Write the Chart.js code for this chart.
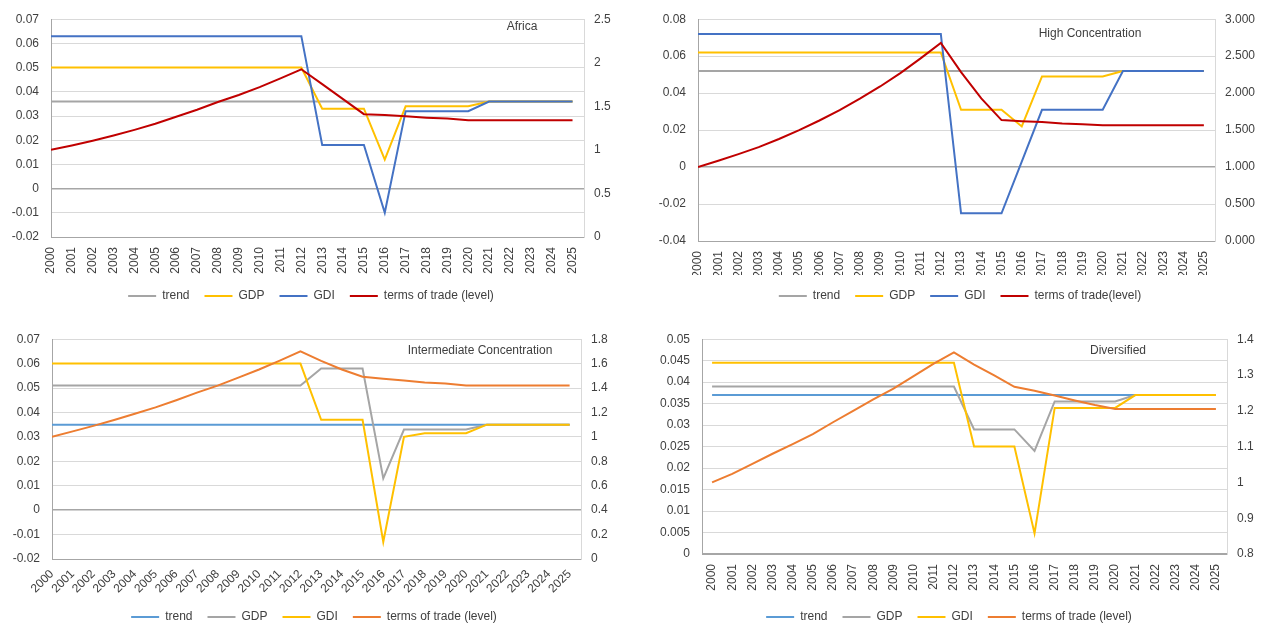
<!DOCTYPE html>
<html>
<head>
<meta charset="utf-8">
<script src="https://cdn.jsdelivr.net/npm/chart.js@4.4.1/dist/chart.umd.min.js"></script>
<style>
  body { margin: 0; background: #fff; width: 1263px; height: 624px; overflow: hidden; position: relative; }
  .box { position: absolute; }
</style>
</head>
<body>
<div class="box" style="left:0px;top:0px;width:622px;height:312px"><canvas id="africa"></canvas></div>
<div class="box" style="left:652px;top:0px;width:616px;height:312px"><canvas id="high"></canvas></div>
<div class="box" style="left:0px;top:320px;width:628px;height:313px"><canvas id="inter"></canvas></div>
<div class="box" style="left:640px;top:320px;width:618px;height:313px"><canvas id="divers"></canvas></div>
<script>
const years = [2000, 2001, 2002, 2003, 2004, 2005, 2006, 2007, 2008, 2009, 2010, 2011, 2012,
               2013, 2014, 2015, 2016, 2017, 2018, 2019, 2020, 2021, 2022, 2023, 2024, 2025];

// Africa
const africaTrend = [0.036, 0.036, 0.036, 0.036, 0.036, 0.036, 0.036, 0.036, 0.036, 0.036, 0.036, 0.036, 0.036,
                     0.036, 0.036, 0.036, 0.036, 0.036, 0.036, 0.036, 0.036, 0.036, 0.036, 0.036, 0.036, 0.036];
const africaGDP = [0.05, 0.05, 0.05, 0.05, 0.05, 0.05, 0.05, 0.05, 0.05, 0.05, 0.05, 0.05, 0.05,
                   0.033, 0.033, 0.033, 0.012, 0.034, 0.034, 0.034, 0.034, 0.036, 0.036, 0.036, 0.036, 0.036];
const africaGDI = [0.063, 0.063, 0.063, 0.063, 0.063, 0.063, 0.063, 0.063, 0.063, 0.063, 0.063, 0.063, 0.063,
                   0.018, 0.018, 0.018, -0.01, 0.032, 0.032, 0.032, 0.032, 0.036, 0.036, 0.036, 0.036, 0.036];
const africaToT = [1.0, 1.05, 1.105, 1.165, 1.23, 1.3, 1.38, 1.46, 1.55, 1.63, 1.72, 1.82, 1.925,
                   1.755, 1.583, 1.41, 1.4, 1.385, 1.37, 1.36, 1.34, 1.34, 1.34, 1.34, 1.34, 1.34];

// High Concentration
const highTrend = [0.052, 0.052, 0.052, 0.052, 0.052, 0.052, 0.052, 0.052, 0.052, 0.052, 0.052, 0.052, 0.052,
                   0.052, 0.052, 0.052, 0.052, 0.052, 0.052, 0.052, 0.052, 0.052, 0.052, 0.052, 0.052, 0.052];
const highGDP = [0.062, 0.062, 0.062, 0.062, 0.062, 0.062, 0.062, 0.062, 0.062, 0.062, 0.062, 0.062, 0.062,
                 0.031, 0.031, 0.031, 0.022, 0.049, 0.049, 0.049, 0.049, 0.052, 0.052, 0.052, 0.052, 0.052];
const highGDI = [0.072, 0.072, 0.072, 0.072, 0.072, 0.072, 0.072, 0.072, 0.072, 0.072, 0.072, 0.072, 0.072,
                 -0.025, -0.025, -0.025, 0.003, 0.031, 0.031, 0.031, 0.031, 0.052, 0.052, 0.052, 0.052, 0.052];
const highToT = [1.0, 1.085, 1.175, 1.27, 1.38, 1.5, 1.63, 1.77, 1.925, 2.09, 2.27, 2.47, 2.68,
                 2.285, 1.93, 1.635, 1.62, 1.61, 1.59, 1.58, 1.565, 1.565, 1.565, 1.565, 1.565, 1.565];

// Intermediate Concentration
const interTrend = [0.035, 0.035, 0.035, 0.035, 0.035, 0.035, 0.035, 0.035, 0.035, 0.035, 0.035, 0.035, 0.035,
                    0.035, 0.035, 0.035, 0.035, 0.035, 0.035, 0.035, 0.035, 0.035, 0.035, 0.035, 0.035, 0.035];
const interGDP = [0.051, 0.051, 0.051, 0.051, 0.051, 0.051, 0.051, 0.051, 0.051, 0.051, 0.051, 0.051, 0.051,
                  0.058, 0.058, 0.058, 0.013, 0.033, 0.033, 0.033, 0.033, 0.035, 0.035, 0.035, 0.035, 0.035];
const interGDI = [0.06, 0.06, 0.06, 0.06, 0.06, 0.06, 0.06, 0.06, 0.06, 0.06, 0.06, 0.06, 0.06,
                  0.037, 0.037, 0.037, -0.013, 0.030, 0.0315, 0.0315, 0.0315, 0.035, 0.035, 0.035, 0.035, 0.035];
const interToT = [1.0, 1.045, 1.09, 1.138, 1.19, 1.242, 1.3, 1.362, 1.42, 1.485, 1.552, 1.625, 1.7,
                  1.623, 1.552, 1.492, 1.476, 1.462, 1.446, 1.438, 1.42, 1.42, 1.42, 1.42, 1.42, 1.42];

// Diversified
const diversTrend = [0.037, 0.037, 0.037, 0.037, 0.037, 0.037, 0.037, 0.037, 0.037, 0.037, 0.037, 0.037, 0.037,
                     0.037, 0.037, 0.037, 0.037, 0.037, 0.037, 0.037, 0.037, 0.037, 0.037, 0.037, 0.037, 0.037];
const diversGDP = [0.039, 0.039, 0.039, 0.039, 0.039, 0.039, 0.039, 0.039, 0.039, 0.039, 0.039, 0.039, 0.039,
                   0.029, 0.029, 0.029, 0.024, 0.0355, 0.0355, 0.0355, 0.0355, 0.037, 0.037, 0.037, 0.037, 0.037];
const diversGDI = [0.0445, 0.0445, 0.0445, 0.0445, 0.0445, 0.0445, 0.0445, 0.0445, 0.0445, 0.0445, 0.0445, 0.0445, 0.0445,
                   0.025, 0.025, 0.025, 0.0048, 0.034, 0.034, 0.034, 0.034, 0.037, 0.037, 0.037, 0.037, 0.037];
const diversToT = [1.0, 1.024, 1.052, 1.08, 1.107, 1.135, 1.168, 1.2, 1.232, 1.262, 1.297, 1.332, 1.363,
                   1.329, 1.299, 1.267, 1.256, 1.243, 1.229, 1.216, 1.205, 1.205, 1.205, 1.205, 1.205, 1.205];

const FONT = "'Liberation Sans', Arial, sans-serif";
const TEXT = '#404040';
const GRID = '#d9d9d9';
const AXIS = '#a6a6a6';

Chart.defaults.font.family = FONT;
Chart.defaults.font.size = 12;
Chart.defaults.color = TEXT;
Chart.defaults.animation = false;

// draws the panel name inside the plot
const panelLabel = {
  id: 'panelLabel',
  afterDraw(chart, args, opts) {
    const ctx = chart.ctx;
    ctx.save();
    ctx.font = '12px ' + FONT;
    ctx.fillStyle = TEXT;
    ctx.textAlign = 'center';
    ctx.textBaseline = 'middle';
    ctx.fillText(opts.text, opts.x, opts.y);
    ctx.restore();
  }
};

const trimNum = v => String(Math.round(v * 10000) / 10000);

function series(label, values, color, axis, order) {
  return {
    label: label,
    data: values.map((v, i) => ({ x: years[i], y: v })),
    borderColor: color,
    backgroundColor: color,
    borderWidth: 2,
    pointRadius: 0,
    tension: 0,
    yAxisID: axis,
    order: order
  };
}

function makeChart(id, p) {
  new Chart(document.getElementById(id), {
    type: 'line',
    data: {
      datasets: p.sets.map((s, i) => series(s[0], s[1], s[2], i === 3 ? 'y2' : 'y', 3 - i))
    },
    plugins: [panelLabel],
    options: {
      responsive: true,
      maintainAspectRatio: false,
      layout: { padding: { top: p.top, bottom: 0, left: 0, right: 0 } },
      plugins: {
        tooltip: { enabled: false },
        panelLabel: { text: p.title, x: p.tx, y: p.ty },
        legend: {
          position: 'bottom',
          labels: {
            boxWidth: 28,
            boxHeight: 2,
            padding: 15,
            font: { size: 12 },
            sort: (a, b) => a.datasetIndex - b.datasetIndex,
            generateLabels: c => Chart.defaults.plugins.legend.labels.generateLabels(c)
              .map(l => Object.assign(l, { lineWidth: 0 }))
          }
        }
      },
      scales: {
        x: {
          type: 'linear',
          min: p.xmin,
          max: 2025.55,
          afterBuildTicks: s => { s.ticks = years.map(y => ({ value: y })); },
          afterFit: s => { s.height = p.xh; },
          grid: { display: false, drawTicks: false },
          border: { display: true, color: AXIS, width: 1 },
          ticks: {
            autoSkip: false,
            minRotation: p.rot,
            maxRotation: p.rot,
            padding: p.rot === 90 ? 10 : 8,
            callback: v => String(v)
          }
        },
        y: {
          position: 'left',
          min: p.ymin,
          max: p.ymax,
          afterFit: s => { s.width = p.lw; },
          grid: {
            color: ctx => ctx.tick && Math.abs(ctx.tick.value) < 1e-9 ? AXIS : GRID,
            lineWidth: ctx => ctx.tick && Math.abs(ctx.tick.value) < 1e-9 ? 1.5 : 1,
            drawTicks: false
          },
          border: { display: true, color: AXIS },
          ticks: { stepSize: p.ystep, padding: 12, callback: trimNum }
        },
        y2: {
          position: 'right',
          min: p.rmin,
          max: p.rmax,
          afterFit: s => { s.width = p.rw; },
          grid: { drawOnChartArea: false, drawTicks: false },
          border: { display: true, color: GRID },
          ticks: {
            stepSize: p.rstep,
            padding: 10,
            callback: p.rfmt || trimNum
          }
        }
      }
    }
  });
}

makeChart('africa', {
  title: 'Africa', tx: 522, ty: 27, top: 17,
  sets: [['trend', africaTrend, '#a5a5a5'], ['GDP', africaGDP, '#ffc000'],
         ['GDI', africaGDI, '#4472c4'], ['terms of trade (level)', africaToT, '#c00000']],
  xmin: 2000, rot: 90, xh: 38,
  ymin: -0.02, ymax: 0.07, ystep: 0.01, lw: 51,
  rmin: 0, rmax: 2.5, rstep: 0.5, rw: 38
});

makeChart('high', {
  title: 'High Concentration', tx: 438, ty: 34, top: 17,
  sets: [['trend', highTrend, '#a5a5a5'], ['GDP', highGDP, '#ffc000'],
         ['GDI', highGDI, '#4472c4'], ['terms of trade(level)', highToT, '#c00000']],
  xmin: 2000, rot: 90, xh: 34,
  ymin: -0.04, ymax: 0.08, ystep: 0.02, lw: 46,
  rmin: 0, rmax: 3, rstep: 0.5, rw: 53,
  rfmt: v => v.toFixed(3)
});

makeChart('inter', {
  title: 'Intermediate Concentration', tx: 480, ty: 31, top: 19,
  sets: [['trend', interTrend, '#5b9bd5'], ['GDP', interGDP, '#a5a5a5'],
         ['GDI', interGDI, '#ffc000'], ['terms of trade (level)', interToT, '#ed7d31']],
  xmin: 2000, rot: 45, xh: 37,
  ymin: -0.02, ymax: 0.07, ystep: 0.01, lw: 52,
  rmin: 0, rmax: 1.8, rstep: 0.2, rw: 47
});

makeChart('divers', {
  title: 'Diversified', tx: 478, ty: 31, top: 19,
  sets: [['trend', diversTrend, '#5b9bd5'], ['GDP', diversGDP, '#a5a5a5'],
         ['GDI', diversGDI, '#ffc000'], ['terms of trade (level)', diversToT, '#ed7d31']],
  xmin: 1999.5, rot: 90, xh: 42,
  ymin: 0, ymax: 0.05, ystep: 0.005, lw: 62,
  rmin: 0.8, rmax: 1.4, rstep: 0.1, rw: 31
});
</script>
</body>
</html>
